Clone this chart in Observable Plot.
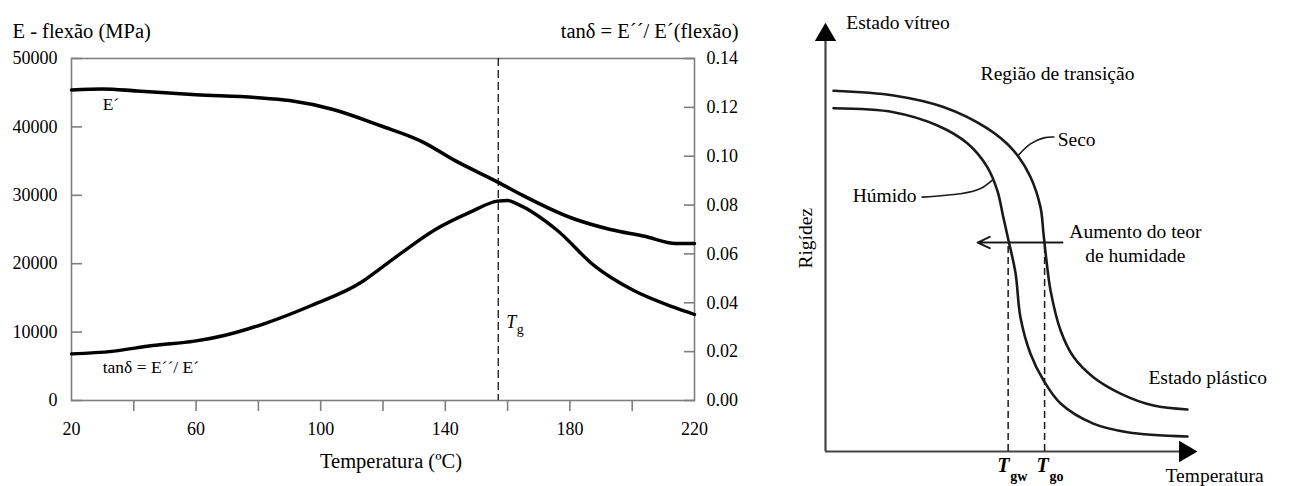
<!DOCTYPE html>
<html><head><meta charset="utf-8">
<script src="https://cdn.jsdelivr.net/npm/d3@7"></script>
<script src="https://cdn.jsdelivr.net/npm/@observablehq/plot@0.6"></script>
<style>
html,body{margin:0;padding:0;background:#fff;}
#wrap{display:flex;width:1294px;height:486px;overflow:hidden;}
#wrap svg{flex:none;overflow:visible;}
#wrap svg, #wrap svg text{font-family:'Liberation Serif','Times New Roman',serif !important;}
</style></head><body><div id="wrap"></div>
<script>
// ---------- Left chart: DMA data ----------
const tempE    = [20, 30, 41, 60, 79, 90, 104, 119, 133, 143, 157, 165, 181, 193, 204, 214, 220];
const modulusE = [45400, 45550, 45250, 44700, 44300, 43850, 42550, 40200, 37750, 35100, 31900, 29950, 26600, 25000, 24000, 22950, 22950];
const tempTan  = [20, 33, 46, 59.5, 69, 82, 97, 113, 119, 125.6, 136.3, 148, 156.7, 160, 163, 176, 187.7, 200.5, 213.3, 220];
const tanDelta = [0.0191, 0.0201, 0.0225, 0.0243, 0.0266, 0.0315, 0.0389, 0.0484, 0.0539, 0.0601, 0.0696, 0.0771, 0.0816, 0.0819, 0.0805, 0.0696, 0.0553, 0.0450, 0.0382, 0.0352];
const Tg = 157;
const xLabelTicks = [20, 60, 100, 140, 180, 220];
const xMinorTicks = [40, 60, 80, 100, 120, 140, 160, 180, 200];
const eTicks   = [0, 10000, 20000, 30000, 40000, 50000];
const tanTicks = [0, 0.02, 0.04, 0.06, 0.08, 0.10, 0.12, 0.14];

// ---------- Right chart: schematic (arbitrary units 0-100) ----------
const dryX = [2.15, 18.3, 31.7, 43.5, 50.5, 55.1, 57.8, 58.6, 59.4, 60.5, 63.2, 66.7, 72.0, 79.3, 88.2, 97.3];
const dryY = [84.1, 83.0, 80.3, 75.3, 70.2, 64.0, 56.9, 50.8, 44.5, 37.5, 28.2, 22.0, 17.3, 13.5, 10.7, 9.8];
const wetX = [2.15, 18.3, 30.1, 38.2, 43.5, 46.2, 47.8, 49.2, 51.1, 52.4, 55.1, 58.6, 63.2, 72.0, 81.2, 97.3];
const wetY = [80.0, 79.1, 76.0, 71.8, 66.3, 60.8, 54.6, 49.2, 41.5, 31.3, 22.8, 16.6, 11.2, 6.5, 4.5, 3.5];
const secoLeaderX = [52.0, 55.1, 58.7, 61.4];
const secoLeaderY = [69.2, 71.7, 73.1, 73.3];
const humLeaderX = [26.0, 36.3, 41.7, 44.8];
const humLeaderY = [59.3, 60.1, 61.3, 63.2];
const TgWet = 49.1, TgDry = 58.9;

const K = 50000 / 0.14;
const serif = "'Liberation Serif', 'Times New Roman', serif";
const gray = "#7f7f7f";

const eData = tempE.map((t, i) => ({t, v: modulusE[i]}));
const tanData = tempTan.map((t, i) => ({t, v: tanDelta[i] * K}));

const left = Plot.plot({
  width: 760, height: 486,
  marginLeft: 71, marginRight: 66, marginTop: 58, marginBottom: 86,
  x: {domain: [20, 220]},
  y: {domain: [0, 50000]},
  style: {fontFamily: serif, fontSize: "18px", color: "#000", background: "#fff"},
  marks: [
    Plot.frame({stroke: gray, strokeWidth: 1.6}),
    Plot.axisY({ticks: eTicks, tickSize: -11, tickFormat: () => "", stroke: gray, strokeWidth: 1.6, label: null}),
    Plot.axisY({ticks: eTicks, tickSize: 0, tickPadding: 14, tickFormat: d => String(d), label: null}),
    Plot.axisY({anchor: "right", ticks: tanTicks.map(t => t * K), tickSize: -11, tickFormat: () => "", stroke: gray, strokeWidth: 1.6, label: null}),
    Plot.axisY({anchor: "right", ticks: tanTicks.map(t => t * K), tickSize: 0, tickPadding: 12, tickFormat: d => (d / K).toFixed(2), label: null}),
    Plot.axisX({ticks: xMinorTicks, tickSize: 11, tickFormat: () => "", stroke: gray, strokeWidth: 1.6, label: null}),
    Plot.axisX({ticks: xLabelTicks, tickSize: 0, tickPadding: 22, tickFormat: d => String(d), label: null}),
    Plot.ruleX([Tg], {x: d => d, stroke: "#000", strokeWidth: 1.2, strokeDasharray: "8,4"}),
    Plot.line(eData, {x: "t", y: "v", stroke: "#000", strokeWidth: 3.6, curve: "monotone-x"}),
    Plot.line(tanData, {x: "t", y: "v", stroke: "#000", strokeWidth: 3.4, curve: "monotone-x"}),
    Plot.text(["E´"], {text: d => d, x: 30, y: 43300, textAnchor: "start", fontSize: 17.5}),
    Plot.text(["tanδ = E´´/ E´"], {text: d => d, x: 30, y: 4800, textAnchor: "start", fontSize: 17.5}),
    Plot.text(["T"], {text: d => d, x: 159.6, y: 11400, textAnchor: "start", fontStyle: "italic", fontSize: 18}),
    Plot.text(["g"], {text: d => d, x: 159.6, y: 11400, dx: 10.5, dy: 7, textAnchor: "start", fontSize: 14}),
    Plot.text(["E - flexão (MPa)"], {text: d => d, frameAnchor: "top-left", dx: -59, dy: -35, textAnchor: "start", fontSize: 20.5}),
    Plot.text(["tanδ = E´´/ E´(flexão)"], {text: d => d, frameAnchor: "top-right", dx: 44, dy: -35, textAnchor: "end", fontSize: 20.5}),
    Plot.text(["Temperatura (ºC)"], {text: d => d, frameAnchor: "bottom", dx: 8, dy: 67, fontSize: 20.5})
  ]
});

const triUp = {draw(ctx, size) {
  const y = Math.sqrt(size / (3 * Math.sqrt(3)));
  ctx.moveTo(0, -2 * y); ctx.lineTo(Math.sqrt(3) * y, y); ctx.lineTo(-Math.sqrt(3) * y, y); ctx.closePath();
}};
const triRight = {draw(ctx, size) {
  const y = Math.sqrt(size / (3 * Math.sqrt(3)));
  ctx.moveTo(2 * y, 0); ctx.lineTo(-y, Math.sqrt(3) * y); ctx.lineTo(-y, -Math.sqrt(3) * y); ctx.closePath();
}};

const dry = dryX.map((x, i) => ({x, y: dryY[i]}));
const wet = wetX.map((x, i) => ({x, y: wetY[i]}));
const secoL = secoLeaderX.map((x, i) => ({x, y: secoLeaderY[i]}));
const humL = humLeaderX.map((x, i) => ({x, y: humLeaderY[i]}));
const ink = "#1a1a1a";

const right = Plot.plot({
  width: 534, height: 486,
  marginLeft: 65, marginRight: 97, marginTop: 22, marginBottom: 35,
  x: {domain: [0, 100], axis: null},
  y: {domain: [0, 100], axis: null},
  style: {fontFamily: serif, fontSize: "19.5px", color: "#000", background: "#fff"},
  marks: [
    Plot.ruleX([0], {x: d => d, y1: 0, y2: 97, stroke: "#444", strokeWidth: 2.2}),
    Plot.ruleY([0], {y: d => d, x1: 0, x2: 97, stroke: "#444", strokeWidth: 2.2}),
    Plot.dot([{x: 0, y: 97.1}], {x: "x", y: "y", symbol: triUp, r: 7.9, fill: "#000", stroke: null}),
    Plot.dot([{x: 96.7, y: 0}], {x: "x", y: "y", symbol: triRight, r: 7.9, fill: "#000", stroke: null}),
    Plot.ruleX([TgWet, TgDry], {x: d => d, y1: 0, y2: 48.7, stroke: ink, strokeWidth: 1.5, strokeDasharray: "7,4"}),
    Plot.line(dry, {x: "x", y: "y", stroke: ink, strokeWidth: 2.6, curve: "catmull-rom"}),
    Plot.line(wet, {x: "x", y: "y", stroke: ink, strokeWidth: 2.6, curve: "catmull-rom"}),
    Plot.line(secoL, {x: "x", y: "y", stroke: ink, strokeWidth: 1.6, curve: "natural"}),
    Plot.line(humL, {x: "x", y: "y", stroke: ink, strokeWidth: 1.6, curve: "natural"}),
    Plot.arrow([{x1: 63.7, x2: 40.9, y: 48.7}], {x1: "x1", x2: "x2", y1: "y", y2: "y", stroke: ink, strokeWidth: 2, headLength: 10, headAngle: 50}),
    Plot.text(["Estado vítreo"], {text: d => d, x: 5.6, y: 100, textAnchor: "start"}),
    Plot.text(["Região de transição"], {text: d => d, x: 41.7, y: 88.1, textAnchor: "start"}),
    Plot.text(["Seco"], {text: d => d, x: 62.4, y: 72.7, textAnchor: "start"}),
    Plot.text(["Húmido"], {text: d => d, x: 7.3, y: 59.7, textAnchor: "start"}),
    Plot.text(["Aumento do teor"], {text: d => d, x: 83.3, y: 51.3}),
    Plot.text(["de humidade"], {text: d => d, x: 83.3, y: 45.7}),
    Plot.text(["Estado plástico"], {text: d => d, x: 86.8, y: 17.3, textAnchor: "start"}),
    Plot.text(["Rigídez"], {text: d => d, x: -5.4, y: 49.7, rotate: -90}),
    Plot.text(["T"], {text: d => d, x: 46.2, y: -3.3, textAnchor: "start", fontStyle: "italic", fontWeight: "bold", fontSize: 20}),
    Plot.text(["gw"], {text: d => d, x: 46.2, y: -3.3, dx: 13, dy: 11, textAnchor: "start", fontWeight: "bold", fontSize: 14}),
    Plot.text(["T"], {text: d => d, x: 56.7, y: -3.3, textAnchor: "start", fontStyle: "italic", fontWeight: "bold", fontSize: 20}),
    Plot.text(["go"], {text: d => d, x: 56.7, y: -3.3, dx: 13, dy: 11, textAnchor: "start", fontWeight: "bold", fontSize: 14}),
    Plot.text(["Temperatura"], {text: d => d, x: 91.4, y: -5.6, textAnchor: "start"})
  ]
});

const wrap = document.getElementById("wrap");
wrap.appendChild(left);
wrap.appendChild(right);
</script>
</body></html>
